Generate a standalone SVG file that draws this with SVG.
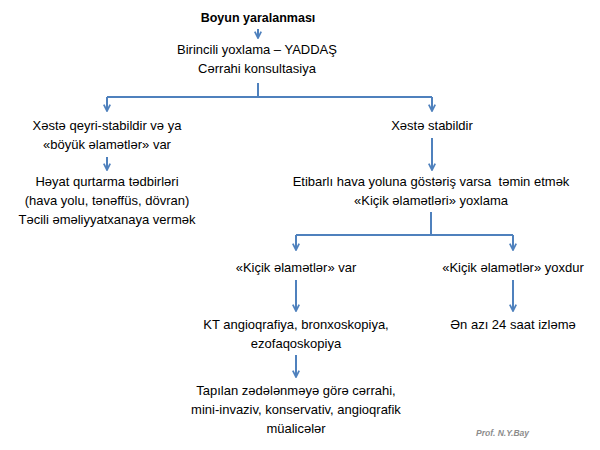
<svg xmlns="http://www.w3.org/2000/svg" width="600" height="450" viewBox="0 0 600 450">
<style>
text{font-family:"Liberation Sans",Arial,sans-serif;font-size:13px;fill:#000;text-anchor:middle}
.b{font-weight:bold;font-size:12.5px}
.sig{font-size:8.5px;font-style:italic;font-weight:bold;fill:#8c8c8c;text-anchor:start}
.c{stroke:#4f81bd;stroke-width:2;fill:none}
</style>
<defs>
<marker id="ah" viewBox="0 0 10 10" refX="9" refY="5" markerWidth="4" markerHeight="4" orient="auto" markerUnits="strokeWidth">
<path d="M1,1 L9,5 L1,9" fill="none" stroke="#4f81bd" stroke-width="2.2" stroke-linejoin="miter"/>
</marker>
</defs>
<rect width="600" height="450" fill="#fff"/>
<g id="connectors">
<line class="c" x1="258" y1="29" x2="258" y2="38" marker-end="url(#ah)"/>
<polyline class="c" points="258,83 258,97"/>
<polyline class="c" points="107,97 432,97"/>
<line class="c" x1="107" y1="97" x2="107" y2="111" marker-end="url(#ah)"/>
<line class="c" x1="432" y1="97" x2="432" y2="111" marker-end="url(#ah)"/>
<line class="c" x1="107" y1="157" x2="107" y2="170" marker-end="url(#ah)"/>
<line class="c" x1="432" y1="138" x2="432" y2="170" marker-end="url(#ah)"/>
<polyline class="c" points="431,212 431,235"/>
<polyline class="c" points="296,235 513,235"/>
<line class="c" x1="296" y1="235" x2="296" y2="250" marker-end="url(#ah)"/>
<line class="c" x1="513" y1="235" x2="513" y2="250" marker-end="url(#ah)"/>
<line class="c" x1="296" y1="280" x2="296" y2="311" marker-end="url(#ah)"/>
<line class="c" x1="513" y1="280" x2="513" y2="311" marker-end="url(#ah)"/>
<line class="c" x1="296" y1="355" x2="296" y2="377" marker-end="url(#ah)"/>
</g>
<g id="n1"><text class="b" x="258" y="22">Boyun yaralanması</text></g>
<g id="n2"><text x="257" y="54">Birincili yoxlama – YADDAŞ</text><text x="257" y="73">Cərrahi konsultasiya</text></g>
<g id="n3"><text x="107" y="130">Xəstə qeyri-stabildir və ya</text><text x="107" y="149">«böyük əlamətlər» var</text></g>
<g id="n4"><text x="107" y="186">Həyat qurtarma tədbirləri</text><text x="107" y="205">(hava yolu, tənəffüs, dövran)</text><text x="107" y="224">Təcili əməliyyatxanaya vermək</text></g>
<g id="n5"><text x="432" y="130">Xəstə stabildir</text></g>
<g id="n6"><text x="431" y="186" xml:space="preserve">Etibarlı hava yoluna göstəriş varsa  təmin etmək</text><text x="431" y="205">«Kiçik əlamətləri» yoxlama</text></g>
<g id="n7"><text x="296" y="272">«Kiçik əlamətlər» var</text></g>
<g id="n8"><text x="513" y="272">«Kiçik əlamətlər» yoxdur</text></g>
<g id="n9"><text x="296" y="329">KT angioqrafiya, bronxoskopiya,</text><text x="296" y="348">ezofaqoskopiya</text></g>
<g id="n10"><text x="513" y="329">Ən azı 24 saat izləmə</text></g>
<g id="n11"><text x="296" y="395">Tapılan zədələnməyə görə cərrahi,</text><text x="296" y="414">mini-invaziv, konservativ, angioqrafik</text><text x="296" y="433">müalicələr</text></g>
<text class="sig" x="476" y="436">Prof. N.Y.Bay</text>
</svg>
